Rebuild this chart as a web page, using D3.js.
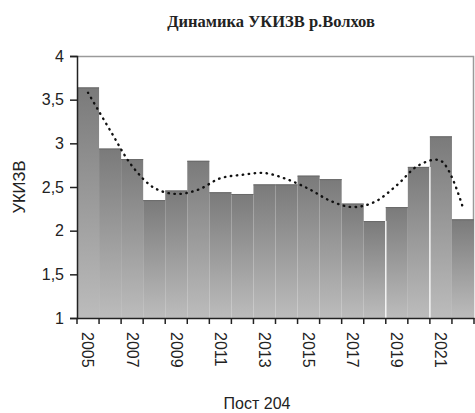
<!DOCTYPE html>
<html>
<head>
<meta charset="utf-8">
<script src="https://cdn.jsdelivr.net/npm/d3@7"></script>
<style>
  body { margin: 0; background: #fff; }
  text { font-family: "Liberation Sans", Arial, sans-serif; fill: #222; }
</style>
</head>
<body>
<div id="chart"></div>
<script>
// Data
var years = [2005, 2006, 2007, 2008, 2009, 2010, 2011, 2012, 2013,
             2014, 2015, 2016, 2017, 2018, 2019, 2020, 2021, 2022];
var ukizv = [3.64, 2.94, 2.82, 2.35, 2.46, 2.80, 2.44, 2.42, 2.53,
             2.53, 2.63, 2.59, 2.31, 2.11, 2.27, 2.73, 3.08, 2.13];
// dotted trend line, read at each year
var trend = [3.58, 3.15, 2.74, 2.49, 2.42, 2.47, 2.60, 2.64, 2.66,
             2.59, 2.48, 2.34, 2.27, 2.33, 2.52, 2.75, 2.80, 2.26];
var yTicks = [1, 1.5, 2, 2.5, 3, 3.5, 4];

var svgWidth = 475;
var svgHeight = 413;
var margin = { top: 56, right: 1, bottom: 95, left: 77 };
var chartWidth = svgWidth - margin.left - margin.right;
var chartHeight = svgHeight - margin.top - margin.bottom;

var svg = d3.select("#chart")
    .append("svg")
    .attr("width", svgWidth)
    .attr("height", svgHeight);

// bar gradient, dark on top, light at the bottom
var grad = svg.append("defs").append("linearGradient")
    .attr("id", "barFill")
    .attr("x1", 0).attr("y1", 0).attr("x2", 0).attr("y2", 1);
grad.append("stop").attr("offset", "0%").attr("stop-color", "#7a7a7a");
grad.append("stop").attr("offset", "100%").attr("stop-color", "#bcbcbc");

svg.append("text")
    .attr("x", 271)
    .attr("y", 27)
    .attr("text-anchor", "middle")
    .style("font-family", "'Liberation Serif', 'Times New Roman', serif")
    .style("font-weight", "bold")
    .style("font-size", "16.5px")
    .text("Динамика УКИЗВ р.Волхов");

var chartGroup = svg.append("g")
    .attr("transform", `translate(${margin.left}, ${margin.top})`);

var xBand = d3.scaleBand()
    .domain(years)
    .range([0, chartWidth])
    .padding(0);

var yLinearScale = d3.scaleLinear()
    .domain([1, 4])
    .range([chartHeight, 0]);

// plot frame (top and right)
chartGroup.append("path")
    .attr("d", `M0,0.5H${chartWidth - 0.5}V${chartHeight}`)
    .attr("fill", "none")
    .attr("stroke", "#9a9a9a")
    .attr("stroke-width", 1.5);

chartGroup.selectAll(".bar")
    .data(years)
    .enter().append("rect")
    .attr("class", "bar")
    .attr("x", d => xBand(d))
    .attr("width", xBand.bandwidth())
    .attr("y", (d, i) => yLinearScale(ukizv[i]))
    .attr("height", (d, i) => chartHeight - yLinearScale(ukizv[i]))
    .attr("fill", "url(#barFill)");

// bar tops slightly darker
chartGroup.selectAll(".cap")
    .data(years)
    .enter().append("line")
    .attr("x1", d => xBand(d))
    .attr("x2", d => xBand(d) + xBand.bandwidth())
    .attr("y1", (d, i) => yLinearScale(ukizv[i]) + 0.5)
    .attr("y2", (d, i) => yLinearScale(ukizv[i]) + 0.5)
    .attr("stroke", "#6a6a6a")
    .attr("stroke-width", 1);

// thin white separators seen in the picture
chartGroup.selectAll(".sep")
    .data([2019, 2021])
    .enter().append("line")
    .attr("x1", d => xBand(d))
    .attr("x2", d => xBand(d))
    .attr("y1", d => yLinearScale(ukizv[years.indexOf(d) - 1]))
    .attr("y2", chartHeight)
    .attr("stroke", "#f4f4f4")
    .attr("stroke-width", 1.5);

var trendLine = d3.line()
    .x((d, i) => xBand(years[i]) + xBand.bandwidth() / 2)
    .y(d => yLinearScale(d))
    .curve(d3.curveCatmullRom);

chartGroup.append("path")
    .datum(trend)
    .attr("d", trendLine)
    .attr("fill", "none")
    .attr("stroke", "#111")
    .attr("stroke-width", 2.4)
    .attr("stroke-linecap", "round")
    .attr("stroke-dasharray", "0.5,5.5");

var leftAxis = d3.axisLeft(yLinearScale)
    .tickValues(yTicks)
    .tickSize(7)
    .tickPadding(6)
    .tickFormat(d => String(d).replace(".", ","));

var yAxis = chartGroup.append("g")
    .call(leftAxis);
yAxis.select(".domain").attr("stroke", "#222").attr("stroke-width", 1.5);
yAxis.selectAll(".tick line").attr("stroke", "#222").attr("stroke-width", 1.5);
yAxis.selectAll(".tick text")
    .style("font-size", "16px")
    .style("fill", "#222");

var bottomAxis = d3.axisBottom(xBand)
    .tickSize(0)
    .tickFormat(d => (d % 2 === 1 ? d : ""));

var xAxis = chartGroup.append("g")
    .attr("transform", "translate(0, " + chartHeight + ")")
    .call(bottomAxis);
xAxis.select(".domain").attr("stroke", "#222").attr("stroke-width", 1.5);
xAxis.selectAll(".tick text")
    .attr("transform", "rotate(90)")
    .attr("x", 14)
    .attr("y", 0)
    .attr("dy", "0.35em")
    .attr("text-anchor", "start")
    .style("font-size", "16px")
    .style("fill", "#222");

// tick marks on band boundaries
xAxis.selectAll(".bound")
    .data(years.concat([null]))
    .enter().append("line")
    .attr("x1", (d, i) => i * xBand.bandwidth())
    .attr("x2", (d, i) => i * xBand.bandwidth())
    .attr("y1", 0)
    .attr("y2", 6)
    .attr("stroke", "#222")
    .attr("stroke-width", 1.5);

svg.append("text")
    .attr("transform", "translate(25, 187) rotate(-90)")
    .attr("text-anchor", "middle")
    .style("font-size", "16.5px")
    .text("УКИЗВ");

svg.append("text")
    .attr("x", 257)
    .attr("y", 409)
    .attr("text-anchor", "middle")
    .style("font-size", "16px")
    .text("Пост 204");
</script>
</body>
</html>
